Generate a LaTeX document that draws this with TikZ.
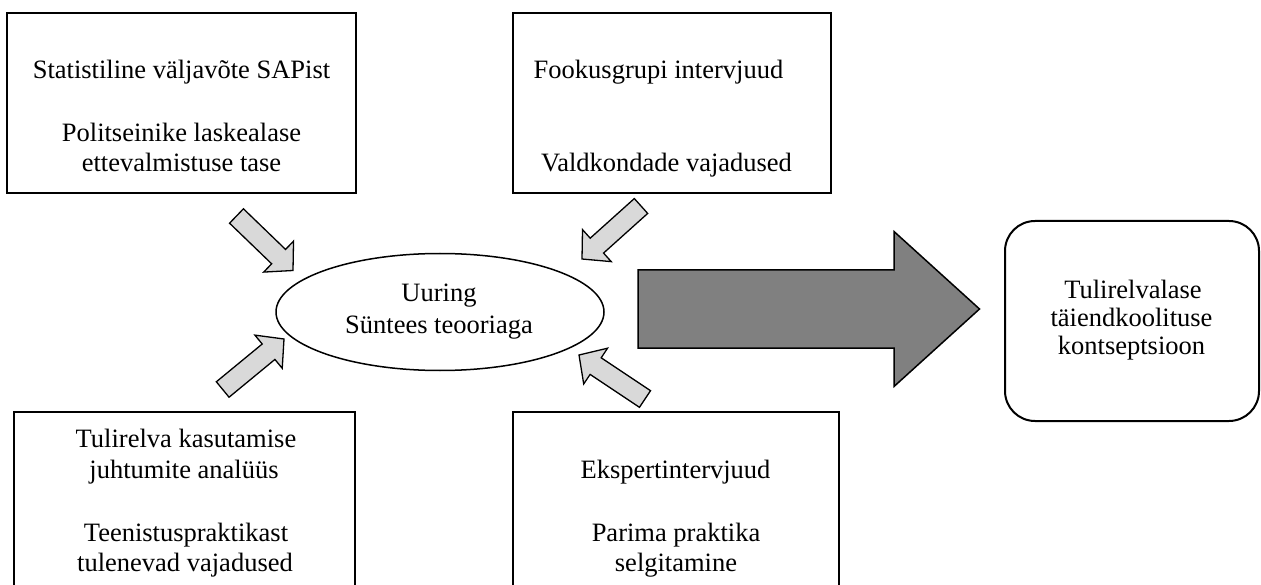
\documentclass[tikz,border=0pt]{standalone}
\usepackage{fontspec}
\setmainfont{Liberation Serif}
\usetikzlibrary{calc,shapes.geometric}

% Block arrow from tail #1 to tip #2:
% #3 half head width, #4 half shaft width, #5 head length, #6 style
\newcommand{\blockarrow}[6]{%
  \draw[#6]
    ($(#1)!#4!90:(#2)$)
    -- ($(#2)!#5!(#1)!#4!90:(#2)$)
    -- ($(#2)!#5!(#1)!#3!90:(#2)$)
    -- (#2)
    -- ($(#2)!#5!(#1)!#3!-90:(#2)$)
    -- ($(#2)!#5!(#1)!#4!-90:(#2)$)
    -- ($(#1)!#4!-90:(#2)$)
    -- cycle;
}

\tikzset{
  box/.style={draw, line width=2pt, rectangle, inner sep=0pt},
  oval/.style={draw, line width=1.5pt, ellipse, inner sep=0pt},
  goal/.style={draw, line width=2pt, rectangle, rounded corners=30pt, inner sep=0pt},
  txt/.style={anchor=base, inner sep=0pt, font=\fontsize{26.5}{30}\selectfont},
  inarrow/.style={draw, line width=1.3pt, fill=black!15, line join=miter},
  outarrow/.style={draw, line width=1.5pt, fill=black!50, line join=miter}
}

\begin{document}
\begin{tikzpicture}[x=1pt, y=-1pt]
  \path[use as bounding box] (0,0) rectangle (1261,585);
  \clip (0,0) rectangle (1261,585);

  % source boxes
  \node[box, minimum width=349pt, minimum height=180pt] (sap) at (181.5,103) {};
  \node[box, minimum width=318pt, minimum height=180pt] (focus) at (672,103) {};
  \node[box, minimum width=341pt, minimum height=188pt] (cases) at (184.5,506) {};
  \node[box, minimum width=326pt, minimum height=188pt] (experts) at (676,506) {};

  % synthesis and result
  \node[oval, minimum width=328pt, minimum height=117pt] (study) at (440,312) {};
  \node[goal, minimum width=254pt, minimum height=200pt] (concept) at (1132,321) {};

  % texts
  \node[txt] (sap1) at (181.5,79) {Statistiline väljavõte SAPist};
  \node[txt] (sap2) at (181.5,141.5) {Politseinike laskealase};
  \node[txt] (sap3) at (181.5,171.5) {ettevalmistuse tase};

  \node[txt] (focus1) at (658.5,79) {Fookusgrupi intervjuud};
  \node[txt] (focus2) at (666.5,171.5) {Valdkondade vajadused};

  \node[txt] (cases1) at (186,447) {Tulirelva kasutamise};
  \node[txt] (cases2) at (184,478) {juhtumite analüüs};
  \node[txt] (cases3) at (186,541.5) {Teenistuspraktikast};
  \node[txt] (cases4) at (185,571.5) {tulenevad vajadused};

  \node[txt] (exp1) at (675.5,478) {Ekspertintervjuud};
  \node[txt] (exp2) at (676,541.5) {Parima praktika};
  \node[txt] (exp3) at (676,571.5) {selgitamine};

  \node[txt] (study1) at (439,301.5) {Uuring};
  \node[txt] (study2) at (439,334) {Süntees teooriaga};

  \node[txt] (concept1) at (1133,298.3) {Tulirelvalase};
  \node[txt] (concept2) at (1131.5,326.7) {täiendkoolituse};
  \node[txt] (concept3) at (1131.5,355) {kontseptsioon};

  % arrow ends
  \coordinate (a1t) at (236.5,216);
  \coordinate (a1h) at (293,270.5);
  \coordinate (a2t) at (641,206);
  \coordinate (a2h) at (582,259);
  \coordinate (a3t) at (222.7,389.5);
  \coordinate (a3h) at (284,339);
  \coordinate (a4t) at (645,399);
  \coordinate (a4h) at (579,355);
  \coordinate (bigt) at (638,309);
  \coordinate (bigh) at (979.5,309);

  % inputs flowing into the study
  \blockarrow{a1t}{a1h}{21.5pt}{10pt}{20pt}{inarrow}
  \blockarrow{a2t}{a2h}{21.5pt}{10pt}{20pt}{inarrow}
  \blockarrow{a3t}{a3h}{21.5pt}{10pt}{20pt}{inarrow}
  \blockarrow{a4t}{a4h}{21.5pt}{10pt}{20pt}{inarrow}

  % study leads to the concept
  \blockarrow{bigt}{bigh}{77.5pt}{39pt}{85.5pt}{outarrow}
\end{tikzpicture}
\end{document}
